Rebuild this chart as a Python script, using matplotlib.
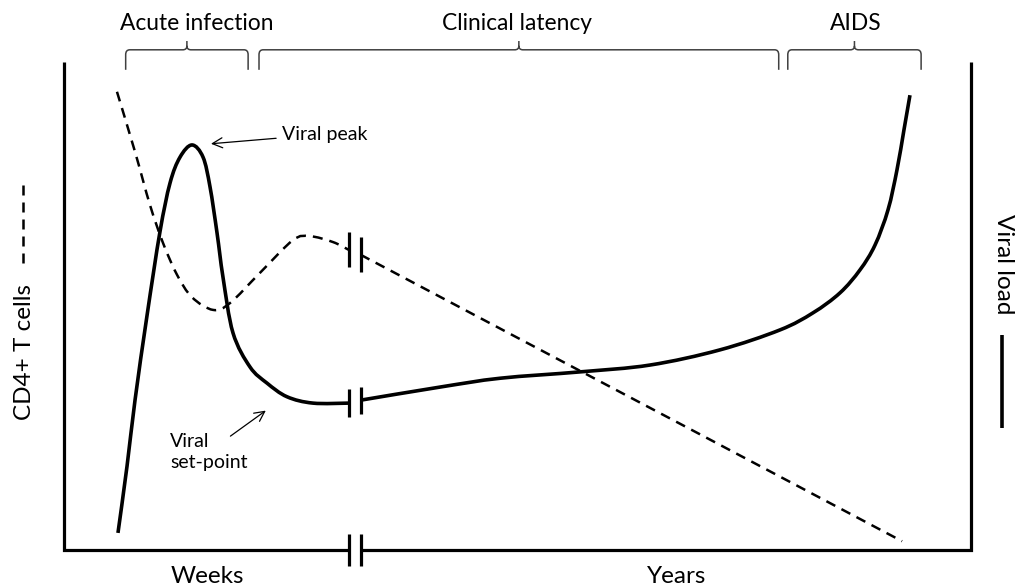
import numpy as np
import matplotlib.pyplot as plt
from matplotlib.path import Path
from matplotlib.patches import PathPatch

plt.rcParams['font.family'] = ['Lato', 'DejaVu Sans']

# time axis runs 0..100 (schematic), level 0..100
# axis break between weeks and years
break_left = 31.4
break_right = 32.7

# viral load (solid line)
viral_x = [5.95, 6.95, 7.83, 9.15, 10.58, 11.69, 12.79, 14.11, 15.33, 16.10, 16.87,
           17.53, 18.63, 20.51, 22.38, 24.59, 27.45, 31.4,
           32.7, 41.5, 48.1, 56.9, 64.6, 72.3, 78.94, 82.58, 85.56, 87.76, 89.42,
           90.85, 91.84, 92.61, 93.27]
viral_y = [3.5, 17.2, 30.7, 48.0, 65.2, 75.2, 80.5, 83.0, 80.5, 74.4, 65.0,
           55.9, 44.5, 37.5, 34.2, 31.4, 30.1, 30.1,
           30.7, 33.4, 35.2, 36.5, 37.9, 41.0, 45.1, 48.6, 52.7, 57.4, 62.5,
           69.7, 77.9, 86.1, 93.2]

# CD4+ T cells (dashed line)
cd4_x = [5.84, 7.83, 9.48, 10.92, 12.46, 14.11, 16.43, 18.30, 21.61, 25.25, 27.12,
         29.66, 31.4,
         32.7, 92.4]
cd4_y = [93.9, 81.6, 70.7, 62.9, 56.4, 51.8, 49.2, 50.6, 56.8, 63.5, 64.3,
         63.1, 61.5,
         60.5, 1.8]

# phases shown with brackets on top
phases = ["Acute infection", "Clinical latency", "AIDS"]
phase_start = [6.8, 21.5, 79.8]
phase_end = [20.3, 78.8, 94.5]
phase_label_x = [14.66, 49.9, 87.3]


def smooth_path(xs, ys):
    pts = np.column_stack([xs, ys])
    verts = [pts[0]]
    codes = [Path.MOVETO]
    for i in range(len(pts) - 1):
        p0 = pts[i - 1] if i > 0 else pts[i]
        p1 = pts[i]
        p2 = pts[i + 1]
        p3 = pts[i + 2] if i + 2 < len(pts) else pts[i + 1]
        verts += [p1 + (p2 - p0) / 6, p2 - (p3 - p1) / 6, p2]
        codes += [Path.CURVE4] * 3
    return Path(verts, codes)


def split(xs, ys):
    xs = np.array(xs)
    ys = np.array(ys)
    left = xs <= break_left + 0.05
    return (xs[left], ys[left]), (xs[~left], ys[~left])


fig = plt.figure(figsize=(10.19, 5.87), dpi=100)
ax = fig.add_axes([64 / 1019, 37 / 587, 907 / 1019, 488 / 587])
ax.set_xlim(0, 100)
ax.set_ylim(0, 100)
ax.axis("off")

# frame: left, bottom (with break), right
frame = dict(color="black", lw=2.3, solid_capstyle="butt", clip_on=False)
ax.plot([0, 0, break_left], [100, 0, 0], solid_joinstyle="miter", **frame)
ax.plot([break_right, 100, 100], [0, 0, 100], solid_joinstyle="miter", **frame)

# curves, each in two pieces around the break
for (xs, ys) in split(viral_x, viral_y):
    ax.add_patch(PathPatch(smooth_path(xs, ys), fill=False, lw=2.6,
                           edgecolor="black", capstyle="butt"))
for (xs, ys) in split(cd4_x, cd4_y):
    ax.add_patch(PathPatch(smooth_path(xs, ys), fill=False, lw=1.8,
                           edgecolor="black", ls=(0, (4, 2.8)), capstyle="butt"))


# break marks
def break_marks(y_left, y_right, half):
    for bx, by in [(break_left, y_left), (break_right, y_right)]:
        ax.plot([bx, bx], [by - half, by + half], color="black", lw=2.3,
                solid_capstyle="butt", clip_on=False)


break_marks(0, 0, 3.2)
break_marks(30.1, 30.7, 2.8)
break_marks(61.5, 60.5, 3.6)

# phase brackets
ybar, yend, ytop = 102.5, 98.4, 104.3
rx, ry = 0.45, 1.0
for name, x0, x1, lx in zip(phases, phase_start, phase_end, phase_label_x):
    xm = (x0 + x1) / 2
    verts = [(x0, yend), (x0, ybar - ry), (x0, ybar), (x0 + rx, ybar),
             (xm - rx, ybar), (xm, ybar), (xm, ybar + ry * 0.8), (xm, ytop),
             (xm, ybar + ry * 0.8), (xm, ybar), (xm + rx, ybar),
             (x1 - rx, ybar), (x1, ybar), (x1, ybar - ry), (x1, yend)]
    codes = [Path.MOVETO, Path.LINETO, Path.CURVE3, Path.CURVE3,
             Path.LINETO, Path.CURVE3, Path.CURVE3, Path.LINETO,
             Path.MOVETO, Path.CURVE3, Path.CURVE3,
             Path.LINETO, Path.CURVE3, Path.CURVE3, Path.LINETO]
    ax.add_patch(PathPatch(Path(verts, codes), fill=False, lw=1.1,
                           edgecolor="#404040", clip_on=False))
    ax.text(lx, 106.6, name, ha="center", va="baseline", fontsize=16.4)

# annotations
arrow = dict(arrowstyle="->", lw=0.9, color="black", mutation_scale=18)
ax.annotate("Viral peak", xy=(15.9, 83.2), xytext=(24.0, 85.2), ha="left",
            va="center", fontsize=14, arrowprops=arrow)
ax.annotate("", xy=(22.5, 28.9), xytext=(18.1, 23.0), arrowprops=arrow)
ax.text(11.7, 20.1, "Viral\nset-point", ha="left", va="center", fontsize=14,
        linespacing=1.25)

# axis labels
ax.text(-4.4, 40.6, "CD4+ T cells", rotation=90, ha="center", va="center",
        fontsize=17.5)
ax.plot([-4.5, -4.5], [58.8, 75.4], color="black", lw=1.8,
        ls=(0, (4, 2.8)), clip_on=False)
ax.text(103.6, 58.6, "Viral load", rotation=270, ha="center", va="center",
        fontsize=17.5)
ax.plot([103.4, 103.4], [25.0, 44.1], color="black", lw=2.6,
        solid_capstyle="butt", clip_on=False)
ax.text(15.8, -6.76, "Weeks", ha="center", va="baseline", fontsize=17.5)
ax.text(67.5, -6.76, "Years", ha="center", va="baseline", fontsize=17.5)

fig.savefig("out.png", dpi=100)
